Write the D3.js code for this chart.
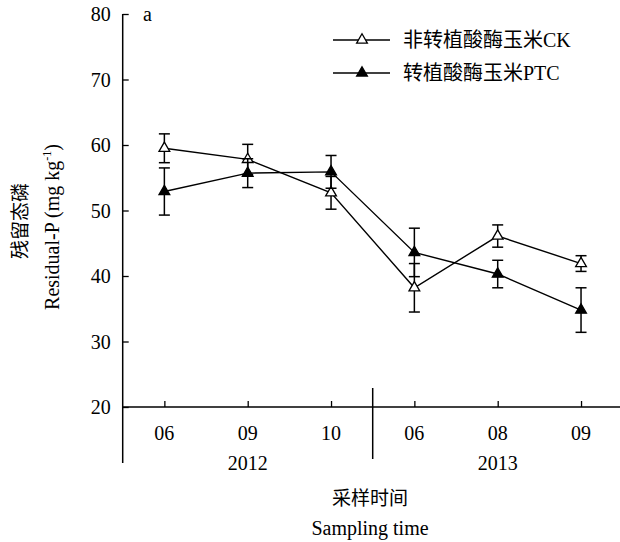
<!DOCTYPE html>
<html>
<head>
<meta charset="utf-8">
<script src="https://cdn.jsdelivr.net/npm/d3@7/dist/d3.min.js"></script>
<style>
  html, body { margin: 0; padding: 0; background: #fff; }
  svg text { font-family: "Liberation Serif", "Times New Roman", "Noto Sans CJK SC", serif; fill: #000; }
</style>
</head>
<body>
<svg id="chart" width="620" height="542"></svg>
<script>
// Sampling months and their years
const months = ["06", "09", "10", "06", "08", "09"];
const years = ["2012", "2013"];
const yearOfMonth = [0, 0, 0, 1, 1, 1];

// Residual-P (mg kg-1), mean and standard error
const ckMean = [59.5, 57.8, 52.7, 38.2, 46.1, 41.9];
const ckErr  = [2.2, 2.3, 2.5, 3.7, 1.7, 1.2];
const ptcMean = [52.9, 55.7, 55.9, 43.6, 40.3, 34.8];
const ptcErr  = [3.6, 2.2, 2.5, 3.7, 2.1, 3.4];

const yTicks = [20, 30, 40, 50, 60, 70, 80];

const seriesNames = ["非转植酸酶玉米CK", "转植酸酶玉米PTC"];

const svg = d3.select("#chart");
const plotLeft = 122.7, plotRight = 622.7, plotTop = 14, plotBottom = 407;

const x = d3.scalePoint().domain(d3.range(months.length)).range([plotLeft, plotRight]).padding(0.5);
const y = d3.scaleLinear().domain([20, 80]).range([plotBottom, plotTop]);

// Y axis with inward ticks
const yAxis = svg.append("g").attr("transform", `translate(${plotLeft},0)`)
  .call(d3.axisRight(y).tickValues(yTicks).tickSize(6).tickSizeOuter(0).tickFormat(d3.format("d")));
yAxis.select(".domain").remove();
yAxis.selectAll("line").attr("stroke", "#000").attr("stroke-width", 1.3);
yAxis.selectAll("text").attr("x", -12).attr("text-anchor", "end")
  .attr("font-size", 20).attr("dy", "0.34em");
// vertical axis line, running below the x axis to bound the year block
svg.append("line").attr("x1", plotLeft).attr("x2", plotLeft).attr("y1", plotTop).attr("y2", 463)
  .attr("stroke", "#000").attr("stroke-width", 1.5);

// X axis with upward ticks
const xAxis = svg.append("g").attr("transform", `translate(0,${plotBottom})`)
  .call(d3.axisTop(x).tickSize(6).tickSizeOuter(0).tickFormat(() => ""));
xAxis.select(".domain").remove();
xAxis.selectAll("line").attr("stroke", "#000").attr("stroke-width", 1.3);
svg.append("line").attr("x1", plotLeft).attr("x2", 620).attr("y1", plotBottom).attr("y2", plotBottom)
  .attr("stroke", "#000").attr("stroke-width", 1.5);

// month labels
svg.append("g").selectAll("text").data(months).join("text")
  .attr("x", (d, i) => x(i)).attr("y", 440).attr("text-anchor", "middle")
  .attr("font-size", 20).text(d => d);

// year labels centred under their months
years.forEach((yr, k) => {
  const idx = d3.range(months.length).filter(i => yearOfMonth[i] === k);
  const cx = (x(idx[0]) + x(idx[idx.length - 1])) / 2;
  svg.append("text").attr("x", cx).attr("y", 470).attr("text-anchor", "middle")
    .attr("font-size", 20).text(yr);
});

// separator between years
const sepX = (x(2) + x(3)) / 2;
svg.append("line").attr("x1", sepX).attr("x2", sepX).attr("y1", 388).attr("y2", 459)
  .attr("stroke", "#000").attr("stroke-width", 1.5);

// axis titles
svg.append("text").attr("x", 370).attr("y", 505).attr("text-anchor", "middle")
  .attr("font-size", 19).attr("font-family", "'Noto Sans CJK SC', sans-serif").text("采样时间");
svg.append("text").attr("x", 370).attr("y", 535).attr("text-anchor", "middle")
  .attr("font-size", 20).text("Sampling time");

svg.append("text").attr("transform", "translate(27,221) rotate(-90)").attr("text-anchor", "middle")
  .attr("font-size", 19).attr("font-family", "'Noto Sans CJK SC', sans-serif").text("残留态磷");
const yt = svg.append("text").attr("transform", "translate(59,227) rotate(-90)")
  .attr("text-anchor", "middle").attr("font-size", 20);
yt.append("tspan").text("Residual-P (mg kg");
yt.append("tspan").attr("font-size", 12).attr("dy", -8).text("-1");
yt.append("tspan").attr("dy", 8).text(")");

// panel letter
svg.append("text").attr("x", 143).attr("y", 21).attr("font-size", 20).text("a");

const tri = d3.symbol().type(d3.symbolTriangle).size(50);

function drawSeries(mean, err, fill) {
  const g = svg.append("g");
  // error bars
  const cap = 5.5;
  mean.forEach((m, i) => {
    const cx = x(i), y1 = y(m + err[i]), y2 = y(m - err[i]);
    g.append("line").attr("x1", cx).attr("x2", cx).attr("y1", y1).attr("y2", y2)
      .attr("stroke", "#000").attr("stroke-width", 1.5);
    [y1, y2].forEach(yy => g.append("line").attr("x1", cx - cap).attr("x2", cx + cap)
      .attr("y1", yy).attr("y2", yy).attr("stroke", "#000").attr("stroke-width", 1.5));
  });
  g.append("path").datum(mean)
    .attr("d", d3.line().x((d, i) => x(i)).y(d => y(d)))
    .attr("fill", "none").attr("stroke", "#000").attr("stroke-width", 1.4);
  g.selectAll("path.pt").data(mean).join("path").attr("class", "pt")
    .attr("d", tri).attr("transform", (d, i) => `translate(${x(i)},${y(d)})`)
    .attr("fill", fill).attr("stroke", "#000").attr("stroke-width", 1.3);
}
drawSeries(ckMean, ckErr, "#fff");
drawSeries(ptcMean, ptcErr, "#000");

// legend
const legend = svg.append("g");
[["#fff", 40], ["#000", 73]].forEach(([fill, ly], k) => {
  legend.append("line").attr("x1", 333).attr("x2", 390).attr("y1", ly).attr("y2", ly)
    .attr("stroke", "#000").attr("stroke-width", 1.4);
  legend.append("path").attr("d", tri).attr("transform", `translate(362,${ly})`)
    .attr("fill", fill).attr("stroke", "#000").attr("stroke-width", 1.3);
  legend.append("text").attr("x", 403).attr("y", ly + 7).attr("font-size", 20)
    .attr("font-family", "'Liberation Serif', 'Noto Sans CJK SC', serif").text(seriesNames[k]);
});
</script>
</body>
</html>
